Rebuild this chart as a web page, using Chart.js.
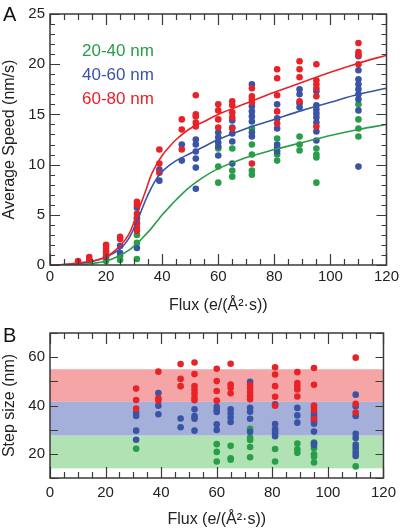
<!DOCTYPE html>
<html>
<head>
<meta charset="utf-8">
<script src="https://cdn.jsdelivr.net/npm/chart.js@4"></script>
<style>
  html, body { margin: 0; padding: 0; background: #fff; }
  #wrap { position: relative; width: 402px; height: 532px; }
  canvas { position: absolute; left: 0; }
  #chartA { top: 0; }
  #chartB { top: 318px; }
</style>
</head>
<body>
<div id="wrap">
  <canvas id="chartA" width="402" height="318"></canvas>
  <canvas id="chartB" width="402" height="214"></canvas>
</div>
<script>
// panel A: average speed vs flux, one list of values per flux column
const fluxA = [10, 14, 20, 25, 31, 39, 47, 52, 60, 65, 72, 81, 89, 95, 110];
const speed2040 = [
  [], [], [0.4], [0.9, 0.5], [3.0, 2.2, 0.6], [], [], [],
  [11.6, 9.8, 8.2], [11.6, 9.4, 8.8], [13.6, 12.0, 11.0, 9.4, 9.0],
  [12.6, 11.0, 10.4], [12.8, 12.0, 11.4], [11.6, 11.0, 10.7, 8.2],
  [16.0, 14.5, 13.6, 12.8]
];
const speed4060 = [
  [], [], [0.8], [1.9, 1.2], [5.7, 4.7, 4.2, 1.7], [9.5, 8.4], [12.0, 10.4],
  [12.5, 12.0, 11.3, 10.6, 9.7, 7.6], [13.2, 12.7, 12.2, 11.8, 10.9],
  [14.4, 13.7, 13.1, 12.3, 10.1], [18.0, 15.8, 15.3, 14.8, 14.3, 13.2, 12.8],
  [16.0, 14.6, 13.6, 12.0, 11.7, 11.3], [17.5, 17.0, 16.1, 15.7],
  [17.3, 15.9, 15.5, 15.1, 14.7, 14.2, 13.3, 12.4],
  [20.8, 19.4, 18.5, 18.0, 17.5, 17.0, 16.5, 15.4, 9.8]
];
const speed6080 = [
  [0.4], [0.8, 0.5], [2.0, 1.7, 1.4, 1.1, 0.9], [2.8, 2.6],
  [6.3, 6.0, 5.1, 4.6, 4.1, 3.7, 3.4], [11.5, 10.1, 9.2], [14.5, 13.5, 11.5],
  [16.9, 15.0, 14.8, 14.2, 13.8], [16.0, 15.4, 14.5, 13.7],
  [16.3, 15.9, 15.2, 14.7, 13.6], [17.6, 16.8, 16.5, 16.2, 10.1],
  [19.5, 18.6, 16.9, 15.3, 14.1], [20.3, 19.5, 18.7, 16.3],
  [20.0, 18.4, 18.0, 17.6, 16.8, 13.8], [22.1, 21.2, 20.9, 20.0]
];

// fitted curves
const fitFlux = [0, 5, 10, 15, 20, 25, 28, 30, 32, 34, 36, 38, 40, 42, 45, 50, 55, 60, 70, 80, 90, 100, 110, 120];
const fit2040 = [0, 0.02, 0.05, 0.15, 0.4, 0.95, 1.45, 1.9, 2.4, 3.0, 3.6, 4.3, 5.0, 5.6, 6.5, 7.8, 8.8, 9.6, 10.7, 11.5, 12.2, 12.9, 13.5, 14.0];
const fit4060 = [0, 0.05, 0.15, 0.35, 0.8, 1.6, 2.6, 3.7, 5.0, 6.4, 7.6, 8.6, 9.3, 9.8, 10.4, 11.1, 11.8, 12.5, 13.6, 14.5, 15.4, 16.2, 17.0, 17.6];
const fit6080 = [0, 0.05, 0.2, 0.4, 0.8, 1.9, 3.0, 4.3, 5.8, 7.3, 8.9, 10.0, 10.9, 11.6, 12.5, 13.6, 14.3, 15.0, 16.1, 17.2, 18.2, 19.2, 20.1, 20.9];

// panel B: step size vs flux
const fluxB = [31, 39, 47, 52, 60, 65, 72, 81, 89, 95, 110];
const step2040 = [
  [22.1], [], [], [], [24, 20.8, 16.8], [23.3, 18.2, 17.6],
  [30.4, 26.7, 25.7, 22.8, 18.6], [22, 16.8], [24.3, 21.9, 20.4],
  [24.7, 22.3, 19.8, 18.8, 16.4], [21.4, 14.8]
];
const step4060 = [
  [37, 35.7, 29.6, 25.8], [45.2, 39.9, 36.4], [34.6, 31], [38.4, 35.6, 34.5, 29.6],
  [39.5, 38.1, 37.3, 32.2, 29.9], [38.4, 36.8, 35, 33.2], [49.8, 39.1, 37.4, 34.5, 29.1],
  [40.5, 32.3, 30.3, 29.4, 28.5, 27.3], [39, 35.9, 32.9],
  [37, 36, 35, 33.5, 32.5, 29.2, 24.4, 23.6],
  [44.5, 39.7, 35.7, 28.3, 26.6, 23.8, 22.5, 20.3, 19.1]
];
const step6080 = [
  [47, 42.3, 38.7], [54, 43, 42], [57.2, 51, 48], [57.8, 53, 48, 46.5, 45, 43.3, 42.2],
  [55.2, 50.1, 46, 42], [57.3, 48.7, 47.3, 45.1], [48.5, 47.2, 45.6, 44, 42.6],
  [55.8, 52.8, 48, 43.6, 39.9], [53.8, 49.3, 47.9, 46.6, 43.7],
  [55.5, 48.6, 40, 39, 38, 34.4], [59.8, 40.7, 37.1]
];
const band2040 = [14, 27.5];
const band4060 = [27.5, 41.5];
const band6080 = [41.5, 55];

const seriesNames = ['20-40 nm', '40-60 nm', '60-80 nm'];

const GREEN = 'rgb(40,158,72)';
const BLUE = 'rgb(58,84,165)';
const RED = 'rgb(232,35,40)';
const FONT = '"Liberation Sans", Arial, sans-serif';

function columnsToPoints(xs, cols) {
  const pts = [];
  cols.forEach((vals, i) => vals.forEach(v => pts.push({ x: xs[i], y: v })));
  return pts;
}
function curvePoints(xs, ys) {
  return xs.map((x, i) => ({ x: x, y: ys[i] }));
}

function dots(data, color, order) {
  return { data: data, backgroundColor: color, borderWidth: 0, pointRadius: 3.3, order: order };
}
function curve(data, color) {
  return {
    data: data, showLine: true, borderColor: color, borderWidth: 1.6,
    pointRadius: 0, tension: 0.35, order: -1
  };
}

// box and inward ticks on all four sides
const framePlugin = {
  id: 'frame',
  afterDatasetsDraw(chart, args, opts) {
    const { ctx, chartArea: a, scales: { x, y } } = chart;
    ctx.save();
    ctx.strokeStyle = '#3a3a3a';
    ctx.lineWidth = 1.2;
    ctx.beginPath();
    for (let v = x.min; v <= x.max; v += 5) {
      const px = Math.round(x.getPixelForValue(v)) + 0.5;
      const len = v % 20 === 0 ? 11 : 6;
      ctx.moveTo(px, a.bottom); ctx.lineTo(px, a.bottom - len);
      ctx.moveTo(px, a.top); ctx.lineTo(px, a.top + len);
    }
    for (let v = y.min; v <= y.max; v += opts.yStep) {
      const py = Math.round(y.getPixelForValue(v)) + 0.5;
      const len = v % opts.yMajor === 0 ? opts.majorLen : opts.minorLen;
      ctx.moveTo(a.left, py); ctx.lineTo(a.left + len, py);
      ctx.moveTo(a.right, py); ctx.lineTo(a.right - len, py);
    }
    ctx.stroke();
    ctx.lineWidth = 1.5;
    ctx.strokeRect(a.left, a.top, a.right - a.left, a.bottom - a.top);
    ctx.restore();
  }
};

// coloured bands behind the step-size points
const bandPlugin = {
  id: 'bands',
  beforeDatasetsDraw(chart, args, opts) {
    if (!opts.bands) return;
    const { ctx, chartArea: a, scales: { y } } = chart;
    ctx.save();
    opts.bands.forEach(b => {
      const top = y.getPixelForValue(b.range[1]);
      const bot = y.getPixelForValue(b.range[0]);
      ctx.fillStyle = b.color;
      ctx.fillRect(a.left, top, a.right - a.left, bot - top);
    });
    ctx.restore();
  }
};

// panel letter and the coloured series labels
const labelPlugin = {
  id: 'labels',
  afterDraw(chart, args, opts) {
    const ctx = chart.ctx;
    ctx.save();
    ctx.textBaseline = 'middle';
    ctx.textAlign = 'left';
    ctx.fillStyle = '#111';
    ctx.font = '20px ' + FONT;
    ctx.fillText(opts.letter, 3, opts.letterY);
    (opts.items || []).forEach(it => {
      ctx.fillStyle = it.color;
      ctx.font = '17px ' + FONT;
      ctx.fillText(it.text, it.x, it.y);
    });
    ctx.restore();
  }
};

Chart.register(framePlugin, bandPlugin, labelPlugin);

function xAxis(height, pad) {
  return {
    type: 'linear', min: 0, max: 120,
    grid: { display: false, drawTicks: false },
    border: { display: false },
    ticks: { stepSize: 20, padding: pad, color: '#222', font: { family: FONT, size: 15 } },
    title: { display: true, text: 'Flux (e/(Å²·s))', color: '#222', padding: { top: 0, bottom: 3 }, font: { family: FONT, size: 16 } },
    afterFit(s) { s.height = height; }
  };
}
function yAxis(min, max, step, title, cb) {
  return {
    type: 'linear', min: min, max: max,
    grid: { display: false, drawTicks: false },
    border: { display: false },
    ticks: { stepSize: step, padding: 5, color: '#222', font: { family: FONT, size: 15 }, callback: cb },
    title: { display: true, text: title, color: '#222', padding: 0, font: { family: FONT, size: 16 } },
    afterFit(s) { s.width = 50; }
  };
}

new Chart(document.getElementById('chartA'), {
  type: 'scatter',
  data: {
    datasets: [
      curve(curvePoints(fitFlux, fit6080), RED),
      curve(curvePoints(fitFlux, fit4060), BLUE),
      curve(curvePoints(fitFlux, fit2040), GREEN),
      dots(columnsToPoints(fluxA, speed6080), RED, 0),
      dots(columnsToPoints(fluxA, speed4060), BLUE, 1),
      dots(columnsToPoints(fluxA, speed2040), GREEN, 2)
    ]
  },
  options: {
    responsive: false,
    animation: false,
    layout: { padding: { top: 10, right: 15, left: 0, bottom: 0 } },
    scales: {
      x: xAxis(53, 3),
      y: yAxis(0, 25, 5, 'Average Speed (nm/s)')
    },
    plugins: {
      legend: { display: false },
      tooltip: { enabled: false },
      frame: { yStep: 1, yMajor: 5, majorLen: 10, minorLen: 5 },
      labels: {
        letter: 'A', letterY: 15,
        items: [
          { text: seriesNames[0], color: GREEN, x: 82, y: 51 },
          { text: seriesNames[1], color: BLUE, x: 82, y: 75 },
          { text: seriesNames[2], color: RED, x: 82, y: 99 }
        ]
      }
    }
  }
});

new Chart(document.getElementById('chartB'), {
  type: 'scatter',
  data: {
    datasets: [
      dots(columnsToPoints(fluxB, step6080), RED, 0),
      dots(columnsToPoints(fluxB, step4060), BLUE, 1),
      dots(columnsToPoints(fluxB, step2040), GREEN, 2)
    ]
  },
  options: {
    responsive: false,
    animation: false,
    layout: { padding: { top: 15, right: 15, left: 0, bottom: 0 } },
    scales: {
      x: xAxis(54, 6),
      y: yAxis(10, 70, 10, 'Step size (nm)', v => (v % 20 === 0 && v > 10 && v < 70) ? v : '')
    },
    plugins: {
      legend: { display: false },
      tooltip: { enabled: false },
      frame: { yStep: 10, yMajor: 10, majorLen: 8, minorLen: 8 },
      bands: {
        bands: [
          { range: band6080, color: 'rgb(245,165,165)' },
          { range: band4060, color: 'rgb(165,176,218)' },
          { range: band2040, color: 'rgb(176,226,180)' }
        ]
      },
      labels: { letter: 'B', letterY: 18 }
    }
  }
});
</script>
</body>
</html>
